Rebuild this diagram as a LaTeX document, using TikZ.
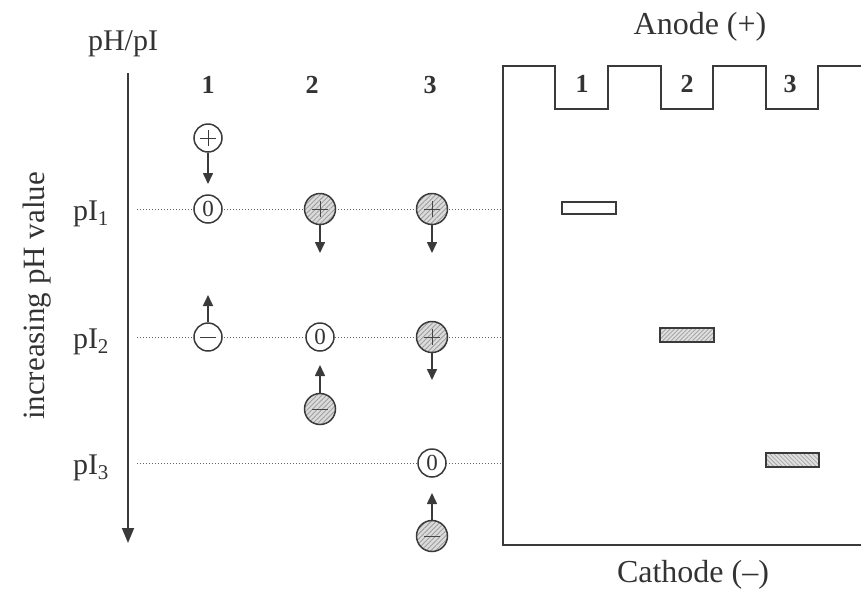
\documentclass[tikz,border=0pt]{standalone}
\usepackage{fontspec}
\setmainfont{Liberation Serif}
\usetikzlibrary{arrows.meta,patterns.meta}

\definecolor{ink}{HTML}{3A3A3A}
\definecolor{txt}{HTML}{333333}

\tikzset{
  ion/.style={circle,draw=ink,line width=1.5pt,minimum size=28pt,inner sep=0pt,fill=white,
    font=\fontsize{23}{26}\selectfont,text=txt},
  hatchion/.style={circle,draw=ink,line width=1.5pt,minimum size=31pt,inner sep=0pt,
    preaction={fill=gray!28},
    pattern={Lines[angle=45,distance=3.4pt,line width=0.9pt]},pattern color=gray!75},
  plussign/.style={path picture={
    \draw[#1,line width=0.8pt]
      ([xshift=-8pt]path picture bounding box.center) -- ([xshift=8pt]path picture bounding box.center)
      ([yshift=-8pt]path picture bounding box.center) -- ([yshift=8pt]path picture bounding box.center);}},
  minussign/.style={path picture={
    \draw[#1,line width=0.8pt]
      ([xshift=-8pt]path picture bounding box.center) -- ([xshift=8pt]path picture bounding box.center);}},
  drift/.style={draw=ink,line width=1.6pt,-{Triangle[length=11pt,width=10pt]}},
  axis/.style={draw=ink,line width=1.7pt,-{Triangle[length=15pt,width=12pt]}},
  level/.style={draw=gray!80!black,line width=1pt,dotted},
  gel/.style={draw=ink,line width=1.7pt},
  band/.style={draw=ink,line width=1.8pt},
  hatchband/.style={band,preaction={fill=gray!25},
    pattern={Lines[angle=#1,distance=3pt,line width=0.8pt]},pattern color=gray!70},
  lab/.style={text=txt,font=\fontsize{30}{36}\selectfont,inner sep=0pt},
  biglab/.style={text=txt,font=\fontsize{32}{38}\selectfont,inner sep=0pt},
  num/.style={text=txt,font=\fontsize{26}{30}\selectfont\bfseries,inner sep=0pt},
}

\begin{document}
\begin{tikzpicture}[x=1pt,y=-1pt]
\useasboundingbox (0,0) rectangle (861,592);

% axis with title
\node[lab] (title) at (123,44) {pH/pI};
\coordinate (axtop) at (128,73);
\coordinate (axend) at (128,543);
\draw[axis] (axtop) -- (axend);
\node[lab,font=\fontsize{31}{36}\selectfont,rotate=90] (incr) at (37,296) {increasing pH value};

% isoelectric levels
\node[lab] (pI1) at (91,214) {pI\textsubscript{1}};
\node[lab] (pI2) at (91,342) {pI\textsubscript{2}};
\node[lab] (pI3) at (91,468) {pI\textsubscript{3}};
\coordinate (s1) at (137,209); \coordinate (e1) at (503,209);
\coordinate (s2) at (137,337); \coordinate (e2) at (503,337);
\coordinate (s3) at (137,463); \coordinate (e3) at (503,463);
\draw[level] (s1) -- (e1);
\draw[level] (s2) -- (e2);
\draw[level] (s3) -- (e3);

% column numbers
\node[num] (n1) at (208,85) {1};
\node[num] (n2) at (312,85) {2};
\node[num] (n3) at (430,85) {3};

% protein 1
\node[ion,plussign=ink] (a0) at (208,138) {};
\node[ion] (a1) at (208,209) {0};
\node[ion,minussign=ink] (a2) at (208,337) {};
\coordinate (a0t) at (208,184);
\coordinate (a2t) at (208,295);
\draw[drift] (a0) -- (a0t);
\draw[drift] (a2) -- (a2t);

% protein 2
\node[hatchion,plussign=gray!55!black] (b1) at (320,209) {};
\node[ion] (b2) at (320,337) {0};
\node[hatchion,minussign=gray!55!black] (b3) at (320,409) {};
\coordinate (b1t) at (320,253);
\coordinate (b3t) at (320,365);
\draw[drift] (b1) -- (b1t);
\draw[drift] (b3) -- (b3t);

% protein 3
\node[hatchion,plussign=gray!55!black] (c1) at (432,209) {};
\node[hatchion,plussign=gray!55!black] (c2) at (432,337) {};
\node[ion] (c3) at (432,463) {0};
\node[hatchion,minussign=gray!55!black] (c4) at (432,536) {};
\coordinate (c1t) at (432,253);
\coordinate (c2t) at (432,380);
\coordinate (c4t) at (432,493);
\draw[drift] (c1) -- (c1t);
\draw[drift] (c2) -- (c2t);
\draw[drift] (c4) -- (c4t);

% gel with sample wells
\draw[gel] (861,66) -- (818,66) -- (818,109) -- (766,109) -- (766,66) -- (713,66)
  -- (713,109) -- (661,109) -- (661,66) -- (608,66) -- (608,109) -- (555,109)
  -- (555,66) -- (503,66) -- (503,545) -- (861,545);
\node[num] (w1) at (582,84) {1};
\node[num] (w2) at (687,84) {2};
\node[num] (w3) at (790,84) {3};
\node[biglab] (anode) at (700,27) {Anode (+)};
\node[biglab] (cathode) at (693,575) {Cathode (–)};

% focused bands
\draw[band,fill=white] (562,202) rectangle (616,214);
\draw[hatchband=45] (660,328) rectangle (714,342);
\draw[hatchband=-45] (766,453) rectangle (819,467);
\end{tikzpicture}
\end{document}
